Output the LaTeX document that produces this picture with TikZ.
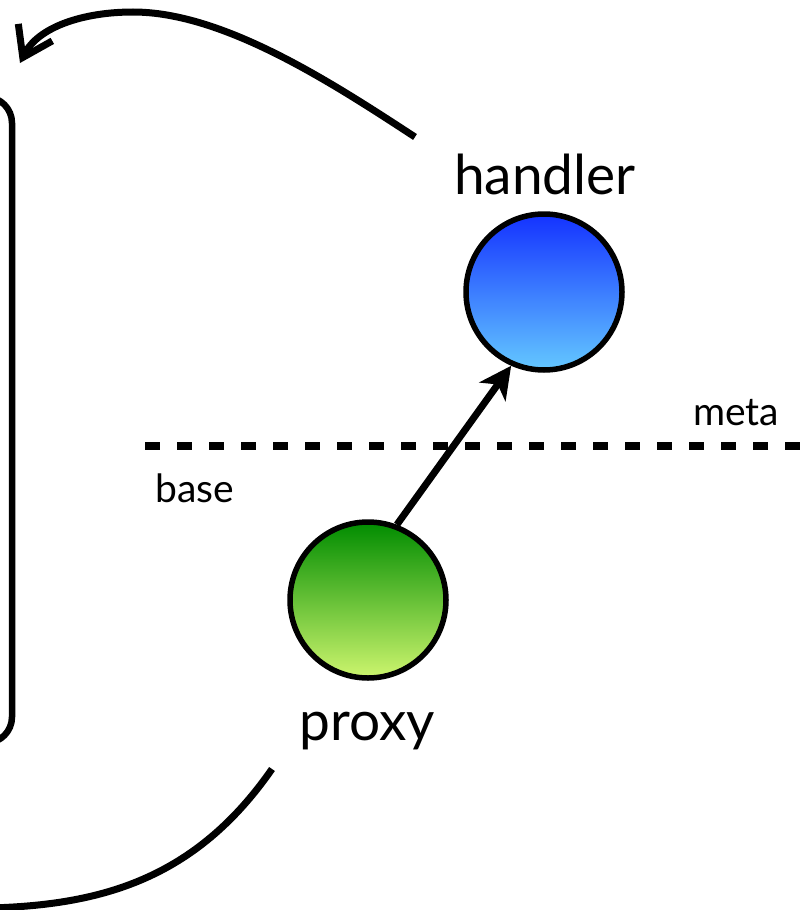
\documentclass[tikz,border=0pt]{standalone}
\usepackage{fontspec}
\setmainfont{Lato}
\usetikzlibrary{arrows.meta}
\definecolor{hTop}{RGB}{20,50,255}
\definecolor{hBot}{RGB}{100,200,255}
\definecolor{pTop}{RGB}{0,140,0}
\definecolor{pBot}{RGB}{205,245,110}
\tikzset{
  ball/.style={circle, draw=black, line width=5.5pt, minimum size=156pt, inner sep=0pt},
  bigtxt/.style={anchor=base, inner sep=0pt, font=\fontsize{55}{60}\selectfont},
  smalltxt/.style={anchor=base, inner sep=0pt, font=\fontsize{39}{44}\selectfont},
  curve/.style={line width=7pt},
}
\begin{document}
\begin{tikzpicture}[x=1pt,y=-1pt]
\useasboundingbox (0,0) rectangle (809,910);
\clip (0,0) rectangle (809,910);
% left rounded box
\draw[line width=6.5pt, rounded corners=26pt] (-60,97) rectangle (12,743);
% layer line
\coordinate (dl) at (145,446);
\coordinate (dr) at (820,446);
\draw[line width=8pt, dash pattern=on 15pt off 17pt] (dl) -- (dr);
\node[smalltxt] (meta) at (736,425) {meta};
\node[smalltxt] (base) at (195,502) {base};
% balls
\node[ball, top color=hTop, bottom color=hBot] (handler) at (544,292) {};
\node[ball, top color=pTop, bottom color=pBot] (proxy) at (368,600) {};
\node[bigtxt] (handlerlbl) at (545,194) {handler};
\node[bigtxt] (proxylbl) at (367,740) {proxy};
% arrow proxy -> handler
\draw[line width=7pt, -{Stealth[length=32pt,width=32pt,inset=9pt]}] (proxy.69) -- (handler.246);
% top curved arrow
\coordinate (ts) at (415,137);
\coordinate (tpk) at (133,12);
\coordinate (te) at (20,63);
\draw[curve, -{Straight Barb[length=28pt,width=38pt]}] (ts) .. controls (331,82) and (223,12) .. (tpk) .. controls (83,12) and (38,27) .. (te);
% bottom curve
\coordinate (bs) at (272,769);
\coordinate (be) at (-10,908);
\draw[curve] (bs) .. controls (195,880) and (100,905) .. (be);
\end{tikzpicture}
\end{document}
